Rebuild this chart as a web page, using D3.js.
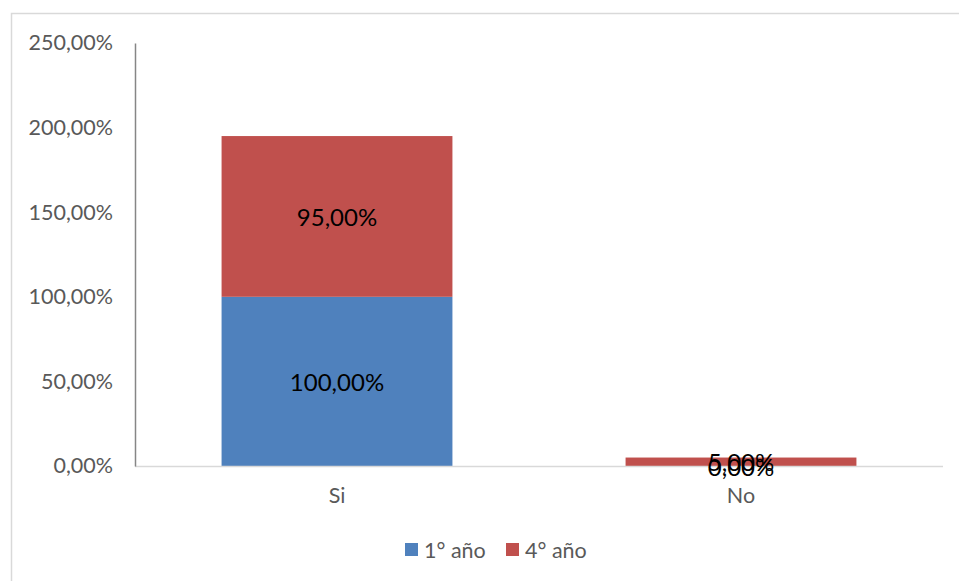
<!DOCTYPE html>
<html>
<head>
<meta charset="utf-8">
<script src="https://cdn.jsdelivr.net/npm/d3@7"></script>
<style>
  html, body { margin: 0; padding: 0; background: #fff; }
  svg { display: block; }
  text { font-family: Lato, "Open Sans", sans-serif; }
</style>
</head>
<body>
<svg id="chart" width="959" height="581"></svg>
<script>
// Categories, series and axis ticks
const categories = ["Si", "No"];
const seriesNames = ["1° año", "4° año"];
const primero = [100, 0];
const cuarto = [95, 5];
const yTicks = [0, 50, 100, 150, 200, 250];
const colors = ["#4f81bd", "#c0504d"];

const fmt = v => d3.format(".2f")(v).replace(".", ",") + "%";

const svg = d3.select("#chart");
const W = 959, H = 581;
const FONT = "Lato, 'Open Sans', sans-serif";

// outer chart frame
svg.append("rect")
  .attr("x", 11.5).attr("y", 13.5)
  .attr("width", W + 20).attr("height", H + 20)
  .attr("fill", "none").attr("stroke", "#d9d9d9").attr("stroke-width", 1.5);

const plot = { left: 135, right: 943, top: 43, bottom: 466 };

const x = d3.scaleBand()
  .domain(categories)
  .range([plot.left, plot.right])
  .paddingInner(0.75 / 1.75)
  .paddingOuter(0.375 / 1.75);

const y = d3.scaleLinear().domain([0, 250]).range([plot.bottom, plot.top]);

const table = categories.map((c, i) => ({ cat: c, "1° año": primero[i], "4° año": cuarto[i] }));
const stacked = d3.stack().keys(seriesNames)(table);

// bars
const g = svg.append("g");
stacked.forEach((layer, si) => {
  g.selectAll(null).data(layer).enter().append("rect")
    .attr("x", d => x(d.data.cat))
    .attr("width", x.bandwidth())
    .attr("y", d => y(d[1]))
    .attr("height", d => y(d[0]) - y(d[1]))
    .attr("fill", colors[si]);
});

// x baseline
svg.append("line")
  .attr("x1", plot.left).attr("x2", plot.right)
  .attr("y1", plot.bottom + 0.5).attr("y2", plot.bottom + 0.5)
  .attr("stroke", "#d9d9d9").attr("stroke-width", 1.5);

// y axis
const yAxis = d3.axisLeft(y).tickValues(yTicks).tickFormat(fmt).tickSize(0).tickPadding(22);
const ya = svg.append("g").attr("transform", `translate(${plot.left},0)`).call(yAxis);
ya.select(".domain").attr("stroke", "#868686").attr("stroke-width", 1.5);
ya.selectAll("text").attr("fill", "#595959").style("font-size", "21.5px")
  .style("font-family", FONT);

// x axis labels
const xAxis = d3.axisBottom(x).tickSize(0).tickPadding(22);
const xa = svg.append("g").attr("transform", `translate(0,${plot.bottom})`).call(xAxis);
xa.select(".domain").remove();
xa.selectAll("text").attr("fill", "#595959").style("font-size", "21.5px")
  .style("font-family", FONT);

// data labels centred in each segment
stacked.forEach(layer => {
  svg.selectAll(null).data(layer).enter().append("text")
    .attr("x", d => x(d.data.cat) + x.bandwidth() / 2)
    .attr("y", d => (y(d[0]) + y(d[1])) / 2)
    .attr("text-anchor", "middle")
    .attr("dominant-baseline", "central")
    .attr("fill", "#000")
    .style("font-size", "24px")
    .text(d => fmt(d[1] - d[0]));
});

// legend
const legend = svg.append("g").attr("transform", "translate(405,550)");
const items = [{ n: seriesNames[0], c: colors[0], dx: 0 }, { n: seriesNames[1], c: colors[1], dx: 101 }];
items.forEach(it => {
  legend.append("rect").attr("x", it.dx).attr("y", -7).attr("width", 13).attr("height", 13).attr("fill", it.c);
  legend.append("text").attr("x", it.dx + 19).attr("y", 0)
    .attr("dominant-baseline", "central").attr("fill", "#595959")
    .style("font-size", "21.5px").text(it.n);
});
</script>
</body>
</html>
